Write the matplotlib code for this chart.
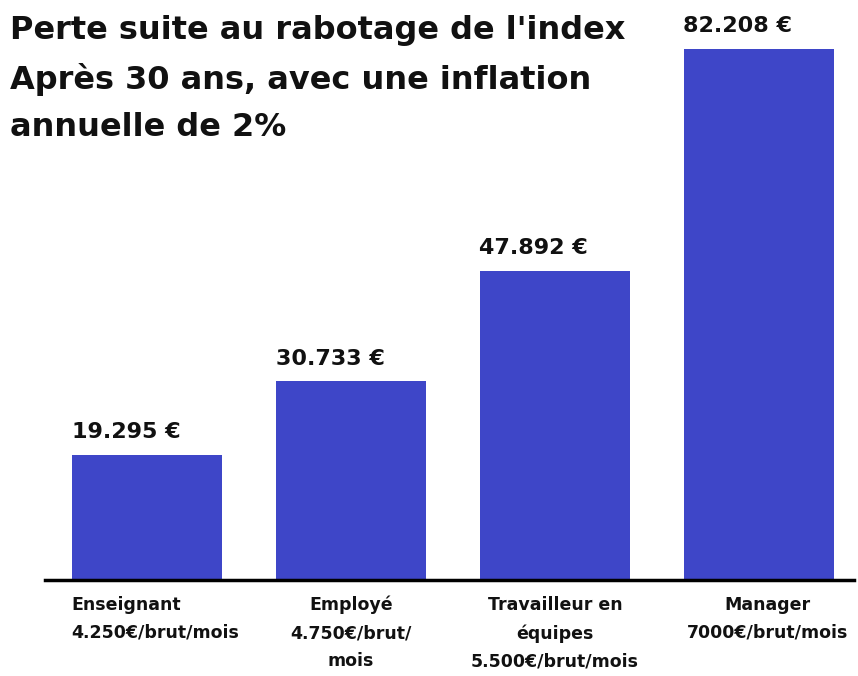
import matplotlib
matplotlib.use("Agg")
import matplotlib.pyplot as plt
import matplotlib.transforms as mtransforms

# data
categories = ["Enseignant\n4.250€/brut/mois", "Employé\n4.750€/brut/\nmois",
              "Travailleur en\néquipes\n5.500€/brut/mois", "Manager\n7000€/brut/mois"]
values = [19.295, 30.733, 47.892, 82.208]
value_labels = ["19.295 €", "30.733 €", "47.892 €", "82.208 €"]
title = "Perte suite au rabotage de l'index\nAprès 30 ans, avec une inflation\nannuelle de 2%"

fig = plt.figure(figsize=(8.58, 6.76), dpi=100)
ax = fig.add_axes([45 / 858, 1 - 580 / 676, (854 - 45) / 858, 570 / 676])

x = list(range(len(values)))
ax.bar(x, values, width=0.735, color="#3e46c8")
ax.set_xlim(-0.5, 3.466)
ax.set_ylim(0, 88.25)

for i, (v, lab) in enumerate(zip(values, value_labels)):
    ax.text(i - 0.37, v + 2.0, lab, ha="left", va="bottom", fontsize=16,
            fontweight="bold", family="DejaVu Sans", color="#111111")

for s in ["top", "left", "right"]:
    ax.spines[s].set_visible(False)
ax.spines["bottom"].set_linewidth(2.5)
ax.set_yticks([])
ax.set_xticks([])

# category labels under the bars
trans = mtransforms.blended_transform_factory(ax.transData, ax.transAxes)
label_x = [-0.37, 1, 2, 3.04]
label_ha = ["left", "center", "center", "center"]
for lx, ha, cat in zip(label_x, label_ha, categories):
    ax.text(lx, -0.028, cat, transform=trans, ha=ha, va="top", fontsize=12.5,
            fontweight="bold", family="DejaVu Sans", linespacing=1.7,
            multialignment=ha, color="#111111")

fig.text(10 / 858, 1 - 15 / 676, title, ha="left", va="top", fontsize=23,
         fontweight="bold", family="DejaVu Sans", linespacing=1.66, color="#111111")

fig.savefig("out.png", dpi=100)
